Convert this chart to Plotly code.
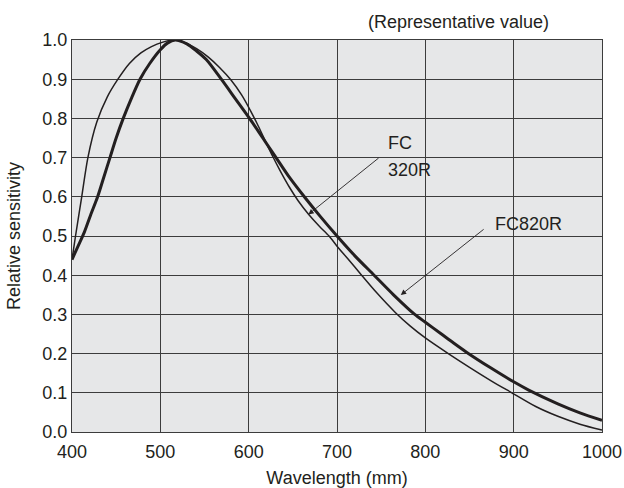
import plotly.graph_objects as go

# FC320R (thin curve)
fc320_x = [400, 404, 411, 418, 428, 440, 452, 465, 478, 490, 502, 515, 528, 541, 554,
           567, 580, 592, 602, 611, 619, 627, 636, 646, 656, 668, 680, 691, 700, 713,
           726, 745, 766, 783, 800, 826, 850, 875, 898, 925, 950, 975, 1000]
fc320_y = [0.44, 0.50, 0.60, 0.70, 0.79, 0.855, 0.90, 0.94, 0.967, 0.983, 0.994, 1.0,
           0.993, 0.978, 0.957, 0.93, 0.898, 0.86, 0.82, 0.78, 0.742, 0.704, 0.665,
           0.625, 0.59, 0.555, 0.525, 0.50, 0.474, 0.44, 0.405, 0.355, 0.305, 0.27,
           0.24, 0.20, 0.165, 0.13, 0.10, 0.065, 0.04, 0.02, 0.005]

# FC820R (thick curve)
fc820_x = [400, 407, 414, 421, 429, 436, 443, 450, 458, 467, 477, 488, 500, 508, 517,
           530, 541, 552, 569, 585, 601, 616, 631, 646, 663, 681, 700, 720, 742, 764,
           788, 800, 817, 832, 847, 873, 900, 917, 950, 975, 1000]
fc820_y = [0.44, 0.475, 0.51, 0.553, 0.60, 0.65, 0.70, 0.75, 0.80, 0.85, 0.90, 0.94,
           0.975, 0.992, 1.0, 0.99, 0.972, 0.95, 0.90, 0.85, 0.80, 0.75, 0.70, 0.65,
           0.60, 0.55, 0.50, 0.45, 0.40, 0.35, 0.30, 0.28, 0.252, 0.227, 0.203, 0.165,
           0.128, 0.107, 0.072, 0.049, 0.03]

x_ticks = [400, 500, 600, 700, 800, 900, 1000]
y_ticks = [0.0, 0.1, 0.2, 0.3, 0.4, 0.5, 0.6, 0.7, 0.8, 0.9, 1.0]
y_tick_labels = [f"{v:.1f}" for v in y_ticks]

FONT = "Liberation Sans, Arial, sans-serif"
INK = "#231f20"
FS = 18

fig = go.Figure()
fig.add_trace(go.Scatter(x=fc320_x, y=fc320_y, mode="lines", name="FC320R",
                         line=dict(color=INK, width=1.5, shape="spline", smoothing=0.8)))
fig.add_trace(go.Scatter(x=fc820_x, y=fc820_y, mode="lines", name="FC820R",
                         line=dict(color=INK, width=3, shape="spline", smoothing=0.8)))

fig.add_annotation(x=667.6, y=0.555, ax=748.8, ay=0.702, axref="x", ayref="y",
                   xref="x", yref="y", text="", showarrow=True,
                   arrowhead=2, arrowsize=1.2, arrowwidth=0.9, arrowcolor=INK)
fig.add_annotation(x=755, y=0.737, xref="x", yref="y", text="FC",
                   showarrow=False, xanchor="left", yanchor="middle",
                   font=dict(family=FONT, size=FS, color=INK))
fig.add_annotation(x=755, y=0.668, xref="x", yref="y", text="320R",
                   showarrow=False, xanchor="left", yanchor="middle",
                   font=dict(family=FONT, size=FS, color=INK))
fig.add_annotation(x=772.2, y=0.3495, ax=867.7, ay=0.52, axref="x", ayref="y",
                   xref="x", yref="y", text="", showarrow=True,
                   arrowhead=2, arrowsize=1.2, arrowwidth=0.9, arrowcolor=INK)
fig.add_annotation(x=877, y=0.531, xref="x", yref="y", text="FC820R",
                   showarrow=False, xanchor="left", yanchor="middle",
                   font=dict(family=FONT, size=FS, color=INK))
fig.add_annotation(x=1.0, y=1.0, xref="paper", yref="paper", xshift=-51, yshift=18,
                   text="(Representative value)", showarrow=False,
                   xanchor="right", yanchor="middle",
                   font=dict(family=FONT, size=FS, color=INK))

axis_common = dict(showgrid=True, gridcolor="#3c3c3c", gridwidth=1,
                   showline=True, linecolor="#3c3c3c", linewidth=1, mirror=True,
                   zeroline=False, ticks="",
                   tickfont=dict(family=FONT, size=FS, color=INK))

fig.update_layout(
    width=624, height=488,
    margin=dict(l=72, r=22, t=40, b=56, autoexpand=False),
    paper_bgcolor="white", plot_bgcolor="#e6e7e8",
    showlegend=False,
    font=dict(family=FONT, size=FS, color=INK),
    xaxis=dict(range=[400, 1000], tickvals=x_ticks, ticklabelstandoff=3,
               title=dict(text="Wavelength (mm)", standoff=10,
                          font=dict(family=FONT, size=FS, color=INK)),
               **axis_common),
    yaxis=dict(range=[0, 1.0], tickvals=y_ticks, ticktext=y_tick_labels,
               title=dict(text="Relative sensitivity", standoff=17,
                          font=dict(family=FONT, size=FS, color=INK)),
               **axis_common),
)

fig.write_html(
    "out.html",
    config={"displayModeBar": False},
    post_script="document.body.style.margin='0';document.body.style.overflow='hidden';",
)
